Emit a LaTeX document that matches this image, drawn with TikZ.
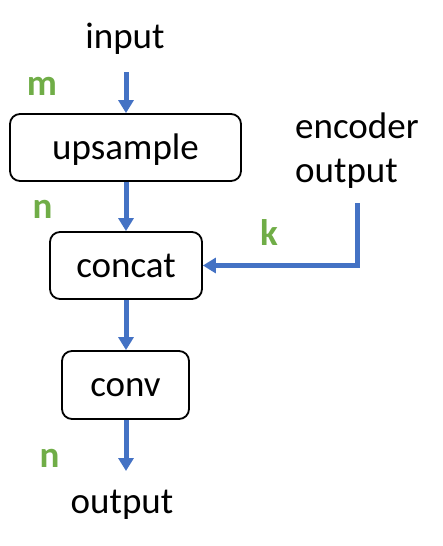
\documentclass[tikz,border=0pt]{standalone}
\usepackage{fontspec}
\setmainfont{Carlito}
\usetikzlibrary{arrows.meta}
\definecolor{arrowblue}{HTML}{4472C4}
\definecolor{dimgreen}{HTML}{70AD47}
\tikzset{
  txt/.style={font=\fontsize{37pt}{44pt}\selectfont, inner sep=0pt},
  dim/.style={font=\fontsize{37pt}{44pt}\selectfont\bfseries, text=dimgreen, inner sep=0pt, anchor=base},
  blockbox/.style={draw=black, line width=1.8pt, rounded corners=10pt,
    font=\fontsize{37pt}{44pt}\selectfont, inner sep=0pt,
    text height=26pt, text depth=3pt},
  flow/.style={draw=arrowblue, line width=5pt,
    -{Triangle[width=15pt,length=13pt]}}
}
\begin{document}
\begin{tikzpicture}[x=1pt,y=-1pt]
\useasboundingbox (0,0) rectangle (443,546);
% text nodes
\node[txt, anchor=base] (input) at (125,48) {input};
\node[txt, anchor=base] (output) at (122,513) {output};
\node[txt, anchor=base west] (enc1) at (295,138) {encoder};
\node[txt, anchor=base west] (enc2) at (295,182) {output};
% blocks
\node[blockbox, minimum width=231pt, minimum height=67pt] (up) at (125.5,147.5) {upsample};
\node[blockbox, minimum width=152pt, minimum height=67pt] (cat) at (126,265.5) {concat};
\node[blockbox, minimum width=127pt, minimum height=68pt] (conv) at (125.5,385) {conv};
% free ends
\coordinate (inEnd) at (126,72);
\coordinate (encEnd) at (357,203);
\coordinate (outEnd) at (126,471);
% connectors
\draw[flow] (inEnd) -- (inEnd |- up.north);
\draw[flow] (up.south -| inEnd) -- (cat.north -| inEnd);
\draw[flow] (cat.south -| inEnd) -- (conv.north -| inEnd);
\draw[flow] (conv.south -| inEnd) -- (outEnd);
\draw[flow] (encEnd) |- (cat.east);
% dimension labels
\node[dim] (m) at (42,95) {m};
\node[dim] (n1) at (42.5,218) {n};
\node[dim] (k) at (269,245) {k};
\node[dim] (n2) at (49.5,467) {n};
\end{tikzpicture}
\end{document}
